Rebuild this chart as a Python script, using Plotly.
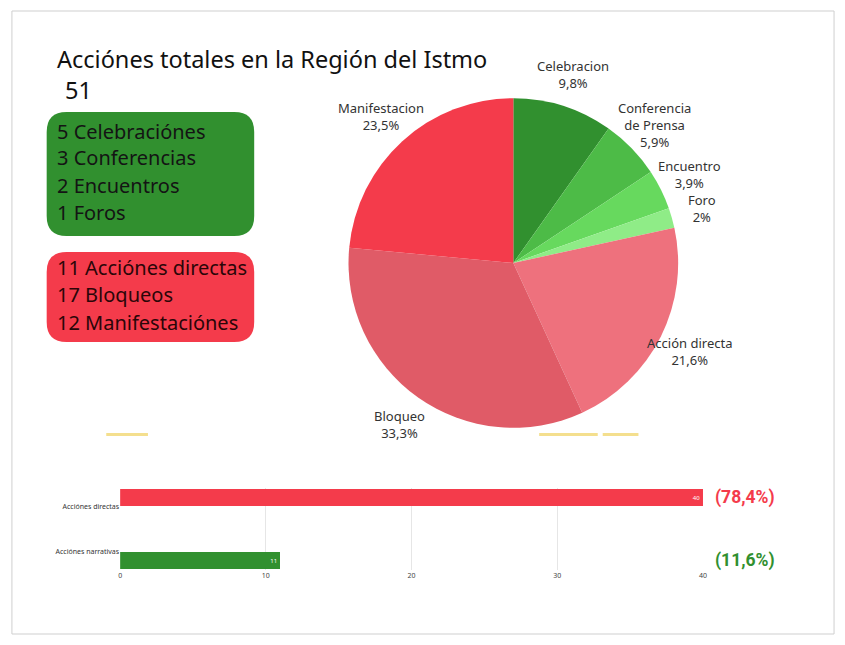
import math
import plotly.graph_objects as go

W, H = 845, 645

# pie data
pie_labels = ["Celebracion", "Conferencia<br>de Prensa", "Encuentro", "Foro",
              "Acción directa", "Bloqueo", "Manifestacion"]
pie_values = [5, 3, 2, 1, 11, 17, 12]
pie_colors = ["#31902f", "#4dbb47", "#67d95e", "#8fec87",
              "#ee717d", "#e05b67", "#f43b4b"]

# text boxes
green_items = ["5 Celebraciónes", "3 Conferencias", "2 Encuentros", "1 Foros"]
red_items = ["11 Acciónes directas", "17 Bloqueos", "12 Manifestaciónes"]
title_text = "Acciónes totales en la Región del Istmo"
total_text = "51"

# bar data
bar_cats = ["Acciónes narrativas", "Acciónes directas"]
bar_values = [11, 40]
bar_colors = ["#31902f", "#f43b4b"]
bar_pct = ["(11,6%)", "(78,4%)"]
bar_ticks = [0, 10, 20, 30, 40]

# pie placement (pixels)
PIE_CX, PIE_CY, PIE_R = 515, 263, 166
LABEL_R = 198
BAR_W = 0.38
bar_offsets = [-BAR_W, 0]


def px(x):
    return x / W


def py(y):
    return 1 - y / H


def pct_text(v, total):
    p = round(v / total * 100, 1)
    s = ("%.1f" % p).rstrip("0").rstrip(".")
    return s.replace(".", ",") + "%"


def rounded_box(x0, y0, x1, y1, r):
    pts = [
        ("M", x0 + r, y0), ("L", x1 - r, y0), ("Q", x1, y0, x1, y0 + r),
        ("L", x1, y1 - r), ("Q", x1, y1, x1 - r, y1), ("L", x0 + r, y1),
        ("Q", x0, y1, x0, y1 - r), ("L", x0, y0 + r), ("Q", x0, y0, x0 + r, y0),
    ]
    out = ""
    for p in pts:
        coords = p[1:]
        s = []
        for i in range(0, len(coords), 2):
            s.append("%f,%f" % (px(coords[i]), py(coords[i + 1])))
        out += p[0] + " " + " ".join(s) + " "
    return out + "Z"


total = sum(pie_values)

fig = go.Figure()

fig.add_trace(go.Pie(
    labels=pie_labels, values=pie_values, textinfo="none",
    marker=dict(colors=pie_colors, line=dict(width=0)),
    sort=False, direction="clockwise", rotation=0,
    domain=dict(x=[px(PIE_CX - PIE_R), px(PIE_CX + PIE_R)],
                y=[py(PIE_CY + PIE_R), py(PIE_CY - PIE_R)]),
    hoverinfo="label+value", showlegend=False,
))

fig.add_trace(go.Bar(
    x=bar_values, y=[0, 1], orientation="h",
    marker=dict(color=bar_colors, line=dict(width=0)),
    width=BAR_W, offset=bar_offsets,
    text=[str(v) for v in bar_values], textposition="inside",
    insidetextanchor="end",
    textfont=dict(family="Noto Sans", size=6, color="#ffffff"),
    xaxis="x", yaxis="y", showlegend=False,
))

fig.update_layout(
    width=W, height=H,
    margin=dict(l=0, r=0, t=0, b=0),
    paper_bgcolor="white", plot_bgcolor="white",
    xaxis=dict(domain=[px(119), px(706)], range=[0, 40], tickvals=bar_ticks,
               showgrid=True, gridcolor="#e6e6e6", gridwidth=1, zeroline=False,
               showline=False, ticks="",
               tickfont=dict(family="Noto Sans", size=7, color="#444444")),
    yaxis=dict(domain=[py(570), py(488)], range=[-0.4, 1.4],
               tickvals=[0, 1], ticktext=bar_cats, showgrid=False, zeroline=False,
               ticks="", tickfont=dict(family="Noto Sans", size=7, color="#333333")),
    bargap=0,
)

shapes = [
    dict(type="rect", xref="paper", yref="paper", x0=px(10), x1=px(838),
         y0=py(634), y1=py(11), line=dict(color="#cfcfcf", width=1)),
    dict(type="path", xref="paper", yref="paper", path=rounded_box(45, 112, 254, 236, 20),
         fillcolor="#31902f", line=dict(width=0), layer="below"),
    dict(type="path", xref="paper", yref="paper", path=rounded_box(45, 252, 254, 342, 20),
         fillcolor="#f43b4b", line=dict(width=0), layer="below"),
]
for x0, x1 in [(105, 147), (541, 600), (605, 641)]:
    shapes.append(dict(type="line", xref="paper", yref="paper", x0=px(x0), x1=px(x1),
                       y0=py(434.5), y1=py(434.5), line=dict(color="#f4df8e", width=3)))
fig.update_layout(shapes=shapes)

ann = [
    dict(text=title_text, x=px(53), y=py(59), xanchor="left", yanchor="middle",
         font=dict(family="Noto Sans", size=23.5, color="#111111")),
    dict(text=total_text, x=px(61), y=py(90), xanchor="left", yanchor="middle",
         font=dict(family="Noto Sans", size=23.5, color="#111111")),
]
for i, t in enumerate(green_items):
    ann.append(dict(text=t, x=px(53), y=py(131 + 27 * i), xanchor="left", yanchor="middle",
                    font=dict(family="Noto Sans", size=20, color="#141414")))
for i, t in enumerate(red_items):
    ann.append(dict(text=t, x=px(53), y=py(268 + 27 * i), xanchor="left", yanchor="middle",
                    font=dict(family="Noto Sans", size=20, color="#2a0608")))

# pie labels at the middle angle of each slice
cum = 0
for lab, v in zip(pie_labels, pie_values):
    mid = (cum + v / 2) / total * 2 * math.pi
    cum += v
    lx = PIE_CX + LABEL_R * math.sin(mid)
    ly = PIE_CY - LABEL_R * math.cos(mid)
    ann.append(dict(text=lab + "<br>" + pct_text(v, total), x=px(lx), y=py(ly),
                    xanchor="center", yanchor="middle", align="center",
                    font=dict(family="Noto Sans", size=13, color="#333333")))

for i, t in enumerate(bar_pct):
    ann.append(dict(text="<b>" + t + "</b>", x=px(716), y=i + bar_offsets[i] + BAR_W / 2,
                    yref="y", xanchor="left", yanchor="middle",
                    font=dict(family="Roboto", size=17.5, color=bar_colors[i])))
for a in ann:
    a.setdefault("xref", "paper")
    a.setdefault("yref", "paper")
    a["showarrow"] = False
fig.update_layout(annotations=ann)

fig.write_html("out.html", config={"displayModeBar": False},
               post_script="document.body.style.margin='0';")
